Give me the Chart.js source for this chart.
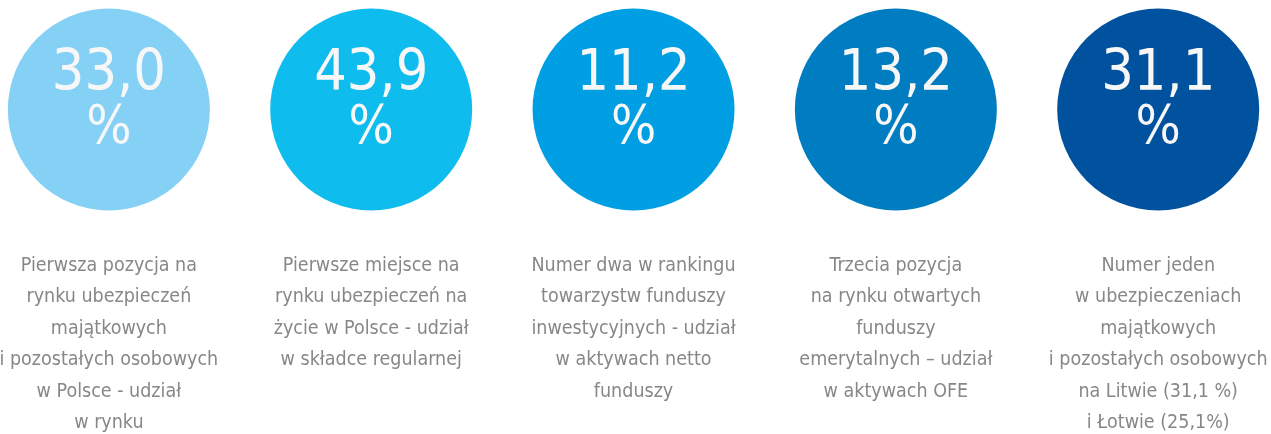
<!DOCTYPE html>
<html lang="pl">
<head>
<meta charset="UTF-8">
<title>Pozycja rynkowa</title>
<script src="https://cdn.jsdelivr.net/npm/chart.js"></script>
<style>
  html, body { margin: 0; padding: 0; background: #fff; overflow: hidden; }
  #wrap { position: relative; width: 1271px; height: 443px; }
</style>
</head>
<body>
<div id="wrap"><canvas id="circles"></canvas></div>
<script>
// udzialy w rynku (%)
var shares = [33.0, 43.9, 11.2, 13.2, 31.1];
var colors = ['#85d0f5', '#0fbcee', '#009fe3', '#007dc0', '#00529e'];
var captions = [
  ['Pierwsza pozycja na', 'rynku ubezpieczeń', 'majątkowych', 'i pozostałych osobowych', 'w Polsce - udział', 'w rynku'],
  ['Pierwsze miejsce na', 'rynku ubezpieczeń na', 'życie w Polsce - udział', 'w składce regularnej'],
  ['Numer dwa w rankingu', 'towarzystw funduszy', 'inwestycyjnych - udział', 'w aktywach netto', 'funduszy'],
  ['Trzecia pozycja', 'na rynku otwartych', 'funduszy', 'emerytalnych – udział', 'w aktywach OFE'],
  ['Numer jeden', 'w ubezpieczeniach', 'majątkowych', 'i pozostałych osobowych', 'na Litwie (31,1 %)', 'i Łotwie (25,1%)']
];

var FONT = '"DejaVu Sans Condensed", "DejaVu Sans", sans-serif';

// wartosc w srodku kola
var valueLabels = {
  id: 'valueLabels',
  afterDatasetsDraw: function(chart) {
    var ctx = chart.ctx;
    var meta = chart.getDatasetMeta(0);
    ctx.save();
    ctx.fillStyle = '#f7f7f7';
    ctx.textAlign = 'center';
    ctx.textBaseline = 'alphabetic';
    meta.data.forEach(function(pt, i) {
      var txt = shares[i].toFixed(1).replace('.', ',');
      ctx.font = '57px ' + FONT;
      ctx.fillText(txt, pt.x, pt.y - 19);
      ctx.font = '53px ' + FONT;
      ctx.fillText('%', pt.x, pt.y + 34);
    });
    ctx.restore();
  }
};

var ctx = document.getElementById('circles').getContext('2d');
var chart = new Chart(ctx, {
  type: 'scatter',
  data: {
    datasets: [{
      data: shares.map(function(v, i) { return { x: i, y: 0 }; }),
      pointRadius: 101,
      pointHoverRadius: 101,
      pointBackgroundColor: colors,
      pointBorderWidth: 0,
      pointHoverBorderWidth: 0,
      clip: false
    }]
  },
  options: {
    responsive: true,
    maintainAspectRatio: false,
    animation: false,
    events: [],
    layout: { padding: 0, autoPadding: false },
    plugins: {
      legend: { display: false },
      tooltip: { enabled: false }
    },
    scales: {
      x: {
        type: 'linear',
        bounds: 'data',
        min: -0.415,
        max: 4.43,
        grid: { display: false, drawTicks: false },
        border: { display: false },
        afterBuildTicks: function(scale) {
          scale.ticks = shares.map(function(v, i) { return { value: i }; });
        },
        afterFit: function(scale) {
          scale.paddingLeft = 0;
          scale.paddingRight = 0;
        },
        ticks: {
          autoSkip: false,
          maxRotation: 0,
          minRotation: 0,
          padding: 4,
          color: '#878787',
          font: { family: FONT, size: 19.5, lineHeight: 31.5 / 19.5 },
          callback: function(value) { return captions[value]; }
        }
      },
      y: {
        display: false,
        min: -0.555,
        max: 0.445
      }
    }
  },
  plugins: [valueLabels]
});
</script>
</body>
</html>
